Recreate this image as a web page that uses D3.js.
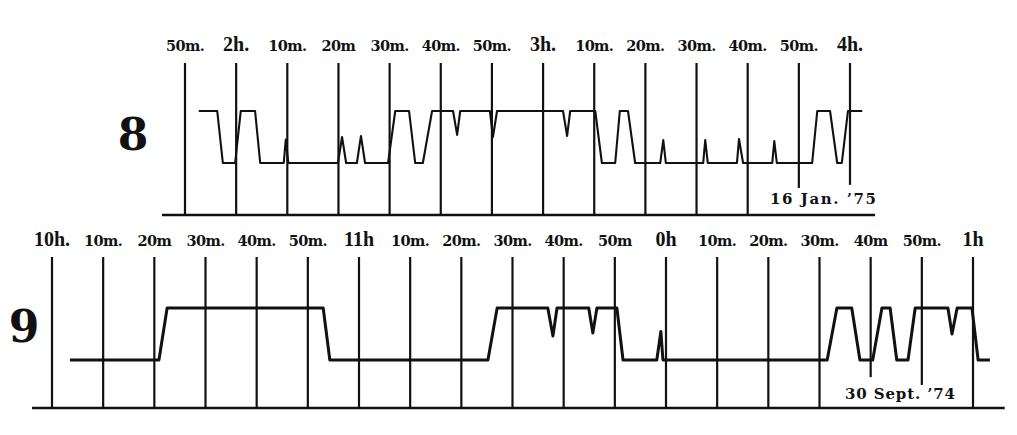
<!DOCTYPE html>
<html>
<head>
<meta charset="utf-8">
<style>
  html, body { margin: 0; padding: 0; background: #fff; }
  text { fill: #111; }
</style>
</head>
<body>
<svg width="1017" height="435"></svg>
<script src="https://d3js.org/d3.v7.min.js"></script>
<script>

// ---- data: tick labels (every 10 minutes) ----
var ticks8 = ["50m.", "2h.", "10m.", "20m", "30m.", "40m.", "50m.", "3h.", "10m.", "20m.", "30m.", "40m.", "50m.", "4h."];
var ticks9 = ["10h.", "10m.", "20m", "30m.", "40m.", "50m.", "11h", "10m.", "20m.", "30m.", "40m.", "50m", "0h", "10m.", "20m.", "30m.", "40m", "50m.", "1h"];
var start8 = 110;   // 1h 50m, in minutes
var start9 = 600;   // 10h

// ---- data: traces (time in minutes, level 0 = low, 1 = high) ----
var time8 = [112.7, 116.3, 117.4, 119.8, 120.9, 123.7, 124.7, 129.3, 129.7, 130.2,
             139.9, 140.7, 141.5, 143.6, 144.4, 145.2, 149.7, 151.1, 153.8, 155.0,
             156.5, 158.3, 162.4, 163.2, 163.8, 169.6, 170.2, 171.0, 183.9, 184.7,
             185.3, 190.2, 191.5, 194.1, 195.0, 196.6, 198.0, 202.9, 203.5, 204.0,
             211.3, 211.7, 212.2, 217.9, 218.3, 219.1, 224.8, 225.2, 225.7, 232.6,
             233.6, 236.1, 237.5, 238.4, 239.6, 242.4];
var level8 = [1, 1, 0, 0, 1, 1, 0, 0, 0.45, 0,
              0, 0.5, 0, 0, 0.52, 0, 0, 1, 1, 0,
              0, 1, 1, 0.54, 1, 1, 0.5, 1, 1, 0.52,
              1, 1, 0, 0, 1, 1, 0, 0, 0.44, 0,
              0, 0.44, 0, 0, 0.46, 0, 0, 0.42, 0, 0,
              1, 1, 0, 0, 1, 1];

var time9 = [603.5, 620.9, 622.5, 653.0, 654.3, 685.2, 687.0, 696.9, 697.9, 698.7,
             704.9, 705.7, 706.5, 710.4, 711.6, 718.2, 719.0, 719.4, 751.5, 753.4,
             756.3, 757.9, 760.4, 762.2, 763.8, 765.1, 767.3, 768.7, 775.1, 775.9,
             776.9, 779.8, 781.0, 783.3];
var level9 = [0, 0, 1, 1, 0, 0, 1, 1, 0.46, 1,
              1, 0.52, 1, 1, 0, 0, 0.55, 0, 0, 1,
              1, 0, 0, 1, 1, 0, 0, 1, 1, 0.5,
              1, 1, 0, 0];

// hour lines that stop short (tick index -> level where they end)
var short8 = {12: -0.48, 13: -0.42};
var short9 = {16: -0.33, 17: -0.48};

var dateText8 = "16 Jan. \u201975";
var dateText9 = "30 Sept. \u201974";

var svg = d3.select("svg");

function isHour(s) { return /h/.test(s); }

function drawPanel(p) {
  var x = d3.scaleLinear().domain([p.start, p.start + 10 * (p.ticks.length - 1)]).range(p.xRange);
  var y = d3.scaleLinear().domain([0, 1]).range([p.low, p.high]);
  var g = svg.append("g");

  var tickData = p.ticks.map(function(t, i) { return {label: t, t: p.start + 10 * i, i: i}; });

  // vertical time lines
  g.selectAll(".vline")
    .data(tickData)
    .enter().append("line")
      .attr("x1", function(d) { return x(d.t); })
      .attr("x2", function(d) { return x(d.t); })
      .attr("y1", p.top)
      .attr("y2", function(d) { return d.i in p.short ? y(p.short[d.i]) : p.base; })
      .attr("stroke", "#111")
      .attr("stroke-width", 2.2);

  // tick labels
  g.selectAll(".lbl")
    .data(tickData)
    .enter().append("text")
      .attr("x", function(d) { return x(d.t); })
      .attr("y", p.labelY)
      .attr("text-anchor", "middle")
      .attr("font-family", function(d) { return isHour(d.label) ? "Liberation Serif" : "DejaVu Serif"; })
      .attr("font-weight", "bold")
      .attr("font-size", function(d) { return isHour(d.label) ? 20 : 14.5; })
      .attr("letter-spacing", function(d) { return isHour(d.label) ? 0 : -0.6; })
      .text(function(d) { return d.label; });

  // baseline
  g.append("line")
    .attr("x1", x(p.baseFrom))
    .attr("x2", x(p.baseTo))
    .attr("y1", p.base)
    .attr("y2", p.base)
    .attr("stroke", "#111")
    .attr("stroke-width", 2.6);

  // trace
  var pts = p.time.map(function(t, i) { return [t, p.level[i]]; });
  g.append("path")
    .datum(pts)
    .attr("fill", "none")
    .attr("stroke", "#111")
    .attr("stroke-width", p.traceWidth)
    .attr("stroke-linejoin", "round")
    .attr("d", d3.line()
      .x(function(d) { return x(d[0]); })
      .y(function(d) { return y(d[1]); }));

  // panel number
  g.append("text")
    .attr("x", p.numX)
    .attr("y", p.numY)
    .attr("text-anchor", "middle")
    .attr("font-family", "DejaVu Serif")
    .attr("font-weight", "bold")
    .attr("font-size", 44)
    .text(p.num);

  // date
  g.append("text")
    .attr("x", p.dateX)
    .attr("y", p.dateY)
    .attr("font-family", "DejaVu Serif")
    .attr("font-weight", "bold")
    .attr("font-size", 15)
    .attr("textLength", p.dateW)
    .attr("lengthAdjust", "spacing")
    .text(p.date);
}

drawPanel({
  num: "8", numX: 133, numY: 150,
  ticks: ticks8, start: start8, xRange: [185, 850],
  top: 63, low: 163, high: 111, base: 215, labelY: 51,
  baseFrom: 105.5, baseTo: 244.9,
  time: time8, level: level8, traceWidth: 2.1,
  short: short8,
  date: dateText8, dateX: 770, dateY: 204, dateW: 106
});

drawPanel({
  num: "9", numX: 24, numY: 342,
  ticks: ticks9, start: start9, xRange: [52, 973],
  top: 257, low: 360, high: 308, base: 408, labelY: 246,
  baseFrom: 596.1, baseTo: 786.2,
  time: time9, level: level9, traceWidth: 3,
  short: short9,
  date: dateText9, dateX: 845, dateY: 399, dateW: 110
});

</script>
</body>
</html>
